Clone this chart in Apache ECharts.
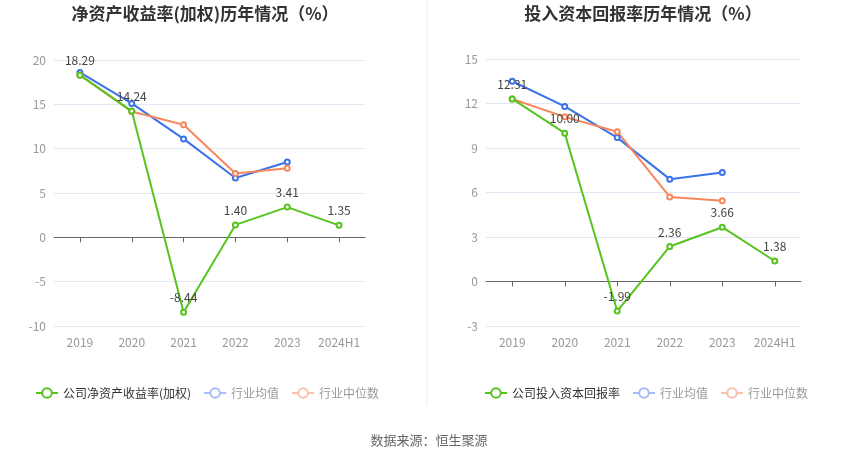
<!DOCTYPE html>
<html lang="zh">
<head>
    <meta charset="utf-8" />
    <title>历年情况</title>
    <script src="https://cdn.jsdelivr.net/npm/echarts@6/dist/echarts.min.js"></script>
    <style>
        body {
            margin: 0;
            padding: 0;
            background: #fff;
        }
        #main {
            width: 850px;
            height: 459px;
        }
    </style>
</head>
<body>
<div id="main"></div>
<script type="text/javascript">
    // categories
    const years = ['2019', '2020', '2021', '2022', '2023', '2024H1'];

    // left chart: ROE (weighted)
    const roeCompany = [18.29, 14.24, -8.44, 1.40, 3.41, 1.35];
    const roeAvg = [18.6, 15.1, 11.1, 6.7, 8.5, null];
    const roeMedian = [18.3, 14.2, 12.7, 7.2, 7.8, null];

    // right chart: ROIC
    const roicCompany = [12.31, 10.00, -1.99, 2.36, 3.66, 1.38];
    const roicAvg = [13.5, 11.8, 9.7, 6.9, 7.35, null];
    const roicMedian = [12.3, 11.1, 10.1, 5.7, 5.45, null];

    const green = '#56c41f';
    const blue = '#3a72e8';
    const orange = '#f7875c';
    const font = '"Noto Sans CJK SC", "Noto Sans", sans-serif';

    var myChart = echarts.init(document.getElementById('main'));

    // shared axis styles
    const xAxisBase = {
        type: 'category',
        data: years,
        axisLine: {onZero: true, lineStyle: {color: '#666'}},
        axisTick: {show: true, alignWithLabel: true, lineStyle: {color: '#666'}},
        axisLabel: {color: '#999', fontSize: 12, fontFamily: font, margin: 10, interval: 0}
    };
    const yAxisBase = {
        type: 'value',
        axisLine: {show: false},
        axisTick: {show: false},
        axisLabel: {color: '#999', fontSize: 12, fontFamily: font, margin: 8},
        splitLine: {lineStyle: {color: '#e3e7f3'}}
    };

    const lineSeries = (name, data, color, idx, withLabel) => ({
        name: name,
        type: 'line',
        xAxisIndex: idx,
        yAxisIndex: idx,
        data: data,
        symbol: 'emptyCircle',
        symbolSize: 5,
        lineStyle: {color: color, width: 2},
        itemStyle: {color: color, borderWidth: 1.5},
        label: withLabel ? {
            show: true,
            position: 'top',
            color: '#444',
            fontSize: 12,
            fontFamily: font,
            formatter: p => p.value.toFixed(2)
        } : {show: false},
        z: withLabel ? 3 : 2
    });

    const legendItems = (first) => [
        {name: first, textStyle: {color: '#333'}},
        {name: '行业均值', textStyle: {color: '#999'}, itemStyle: {color: '#a3bdf5'}, lineStyle: {color: '#a3bdf5'}},
        {name: '行业中位数', textStyle: {color: '#999'}, itemStyle: {color: '#f9c0aa'}, lineStyle: {color: '#f9c0aa'}}
    ];

    var option = {
        backgroundColor: '#fff',
        animation: false,
        textStyle: {fontFamily: font},
        title: [
            {
                text: '净资产收益率(加权)历年情况（%）',
                left: 200, top: 0, textAlign: 'center',
                textStyle: {fontSize: 17, fontWeight: 'bold', color: '#333', fontFamily: font}
            },
            {
                text: '投入资本回报率历年情况（%）',
                left: 638, top: 0, textAlign: 'center',
                textStyle: {fontSize: 17, fontWeight: 'bold', color: '#333', fontFamily: font}
            },
            {
                text: '数据来源：恒生聚源',
                left: 424, top: 429, textAlign: 'center',
                textStyle: {fontSize: 13, fontWeight: 'normal', color: '#666', fontFamily: font}
            }
        ],
        legend: [
            {
                left: 30, top: 382, itemWidth: 22, itemHeight: 12, itemGap: 12,
                textStyle: {fontSize: 12, fontFamily: font},
                data: legendItems('公司净资产收益率(加权)')
            },
            {
                left: 479, top: 382, itemWidth: 22, itemHeight: 12, itemGap: 12,
                textStyle: {fontSize: 12, fontFamily: font},
                data: legendItems('公司投入资本回报率')
            }
        ],
        grid: [
            {left: 54, right: 485, top: 60, height: 266, containLabel: false},
            {left: 486, right: 49, top: 59, height: 267, containLabel: false}
        ],
        xAxis: [
            Object.assign({gridIndex: 0}, xAxisBase),
            Object.assign({gridIndex: 1}, xAxisBase)
        ],
        yAxis: [
            Object.assign({gridIndex: 0, min: -10, max: 20, interval: 5}, yAxisBase),
            Object.assign({gridIndex: 1, min: -3, max: 15, interval: 3}, yAxisBase)
        ],
        graphic: [
            {
                type: 'line',
                shape: {x1: 427, y1: 0, x2: 427, y2: 405},
                style: {stroke: '#eeeeee', lineWidth: 1}
            }
        ],
        series: [
            lineSeries('行业均值', roeAvg, blue, 0, false),
            lineSeries('行业中位数', roeMedian, orange, 0, false),
            lineSeries('公司净资产收益率(加权)', roeCompany, green, 0, true),
            lineSeries('行业均值', roicAvg, blue, 1, false),
            lineSeries('行业中位数', roicMedian, orange, 1, false),
            lineSeries('公司投入资本回报率', roicCompany, green, 1, true)
        ]
    };

    myChart.setOption(option);
</script>
</body>
</html>
